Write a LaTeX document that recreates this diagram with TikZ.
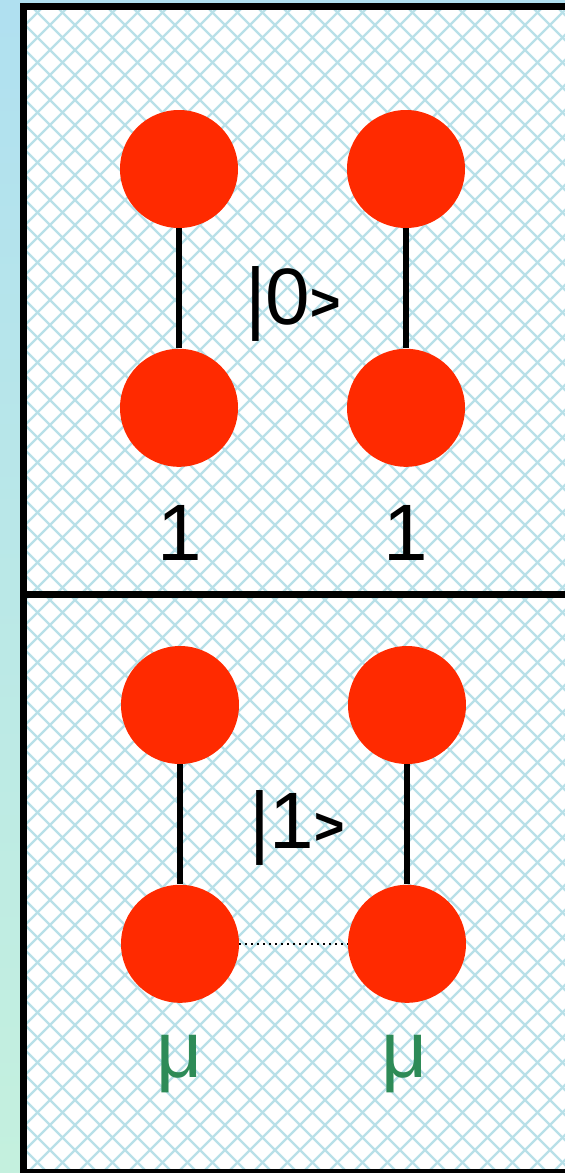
\documentclass[tikz,border=0pt]{standalone}
\usepackage{fontspec}
\setmainfont{Liberation Sans}
\usetikzlibrary{positioning}
\definecolor{atomred}{RGB}{255,42,0}
\definecolor{hatchblue}{RGB}{184,224,232}
\definecolor{mugreen}{RGB}{46,139,87}
\definecolor{skytop}{RGB}{176,224,240}
\definecolor{mintbot}{RGB}{196,240,222}

\begin{document}
\begin{tikzpicture}[x=0.5pt, y=-0.5pt,
  node distance=60pt,
  atom/.style={circle, fill=atomred, minimum size=59pt, inner sep=0pt},
  bond/.style={line width=3pt},
  weak/.style={line width=1pt, dotted},
  ket/.style={font=\fontsize{40}{40}\selectfont, inner sep=0pt, anchor=base},
  wt/.style={font=\fontsize{40}{40}\selectfont, inner sep=0pt, anchor=base},
  frame/.style={line width=3.5pt},
  hatch/.style={hatchblue, line width=1.1pt}
]
  \useasboundingbox (0,0) rectangle (565,1173);
  % backdrop and hatched panel
  \shade[top color=skytop, bottom color=mintbot] (0,0) rectangle (565,1173);
  \fill[white] (23.5,6.5) rectangle (600,1172.5);
  \begin{scope}
    \clip (23.5,6.5) rectangle (600,1172.5);
    \foreach \c in {-1200,-1175,...,1800}{
      \draw[hatch] (\c,0) -- ++(1200,1200);
      \draw[hatch] (\c,0) -- ++(-1200,1200);
    }
  \end{scope}
  \draw[frame] (600,6.5) -- (23.5,6.5) -- (23.5,1172.5) -- (600,1172.5);
  \draw[frame] (23.5,594.5) -- (600,594.5);

  % state |0>
  \node[atom] (p0a) at (179,169) {};
  \node[atom, below=of p0a] (p0b) {};
  \node[atom] (q0a) at (406,169) {};
  \node[atom, below=of q0a] (q0b) {};
  \draw[bond] (p0a) -- (p0b);
  \draw[bond] (q0a) -- (q0b);
  \node[ket] (k0) at (293,324) {|0{\fontsize{26}{26}\selectfont\bfseries\raisebox{2pt}{>}}};
  \node[wt] (w0a) at (180,560) {1};
  \node[wt] (w0b) at (406,560) {1};

  % state |1>
  \node[atom] (p1a) at (180,705) {};
  \node[atom, below=of p1a] (p1b) {};
  \node[atom] (q1a) at (407,705) {};
  \node[atom, below=of q1a] (q1b) {};
  \draw[bond] (p1a) -- (p1b);
  \draw[bond] (q1a) -- (q1b);
  \draw[weak] (p1b) -- (q1b);
  \node[ket] (k1) at (297,848) {|1{\fontsize{26}{26}\selectfont\bfseries\raisebox{2pt}{>}}};
  \node[wt, text=mugreen] (w1a) at (180,1077) {μ};
  \node[wt, text=mugreen] (w1b) at (405,1077) {μ};
\end{tikzpicture}
\end{document}
